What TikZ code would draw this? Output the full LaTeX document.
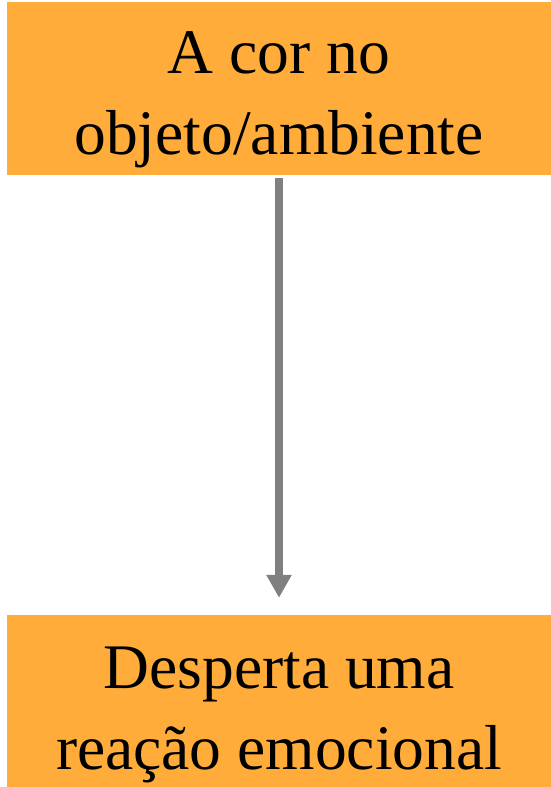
\documentclass[tikz,border=0pt]{standalone}
\usepackage{fontspec}
\setmainfont{Liberation Serif}
\usetikzlibrary{arrows.meta}
\definecolor{boxorange}{RGB}{255,172,58}
\definecolor{arrowgray}{RGB}{128,128,128}

\begin{document}
\begin{tikzpicture}[x=1pt,y=1pt,
    box/.style={fill=boxorange,draw=none,minimum width=544pt,inner sep=0pt},
    txt/.style={align=center,inner sep=0pt,font=\fontsize{63.5}{81}\selectfont}]
    \useasboundingbox (0,0) rectangle (551,787);
    \node[box,minimum height=173pt] (cor) at (279,698.5) {};
    \node[txt] (cortext) at (279,687) {A cor no\\objeto/ambiente};
    \node[box,minimum height=172pt] (emo) at (279,86) {};
    \node[txt] (emotext) at (279,72) {Desperta uma\\reação emocional};

    \draw[arrowgray,line width=8pt,-{Triangle[width=24pt,length=23pt]},
      shorten <=3pt,shorten >=17pt] (cor.south) -- (emo.north);
\end{tikzpicture}
\end{document}
